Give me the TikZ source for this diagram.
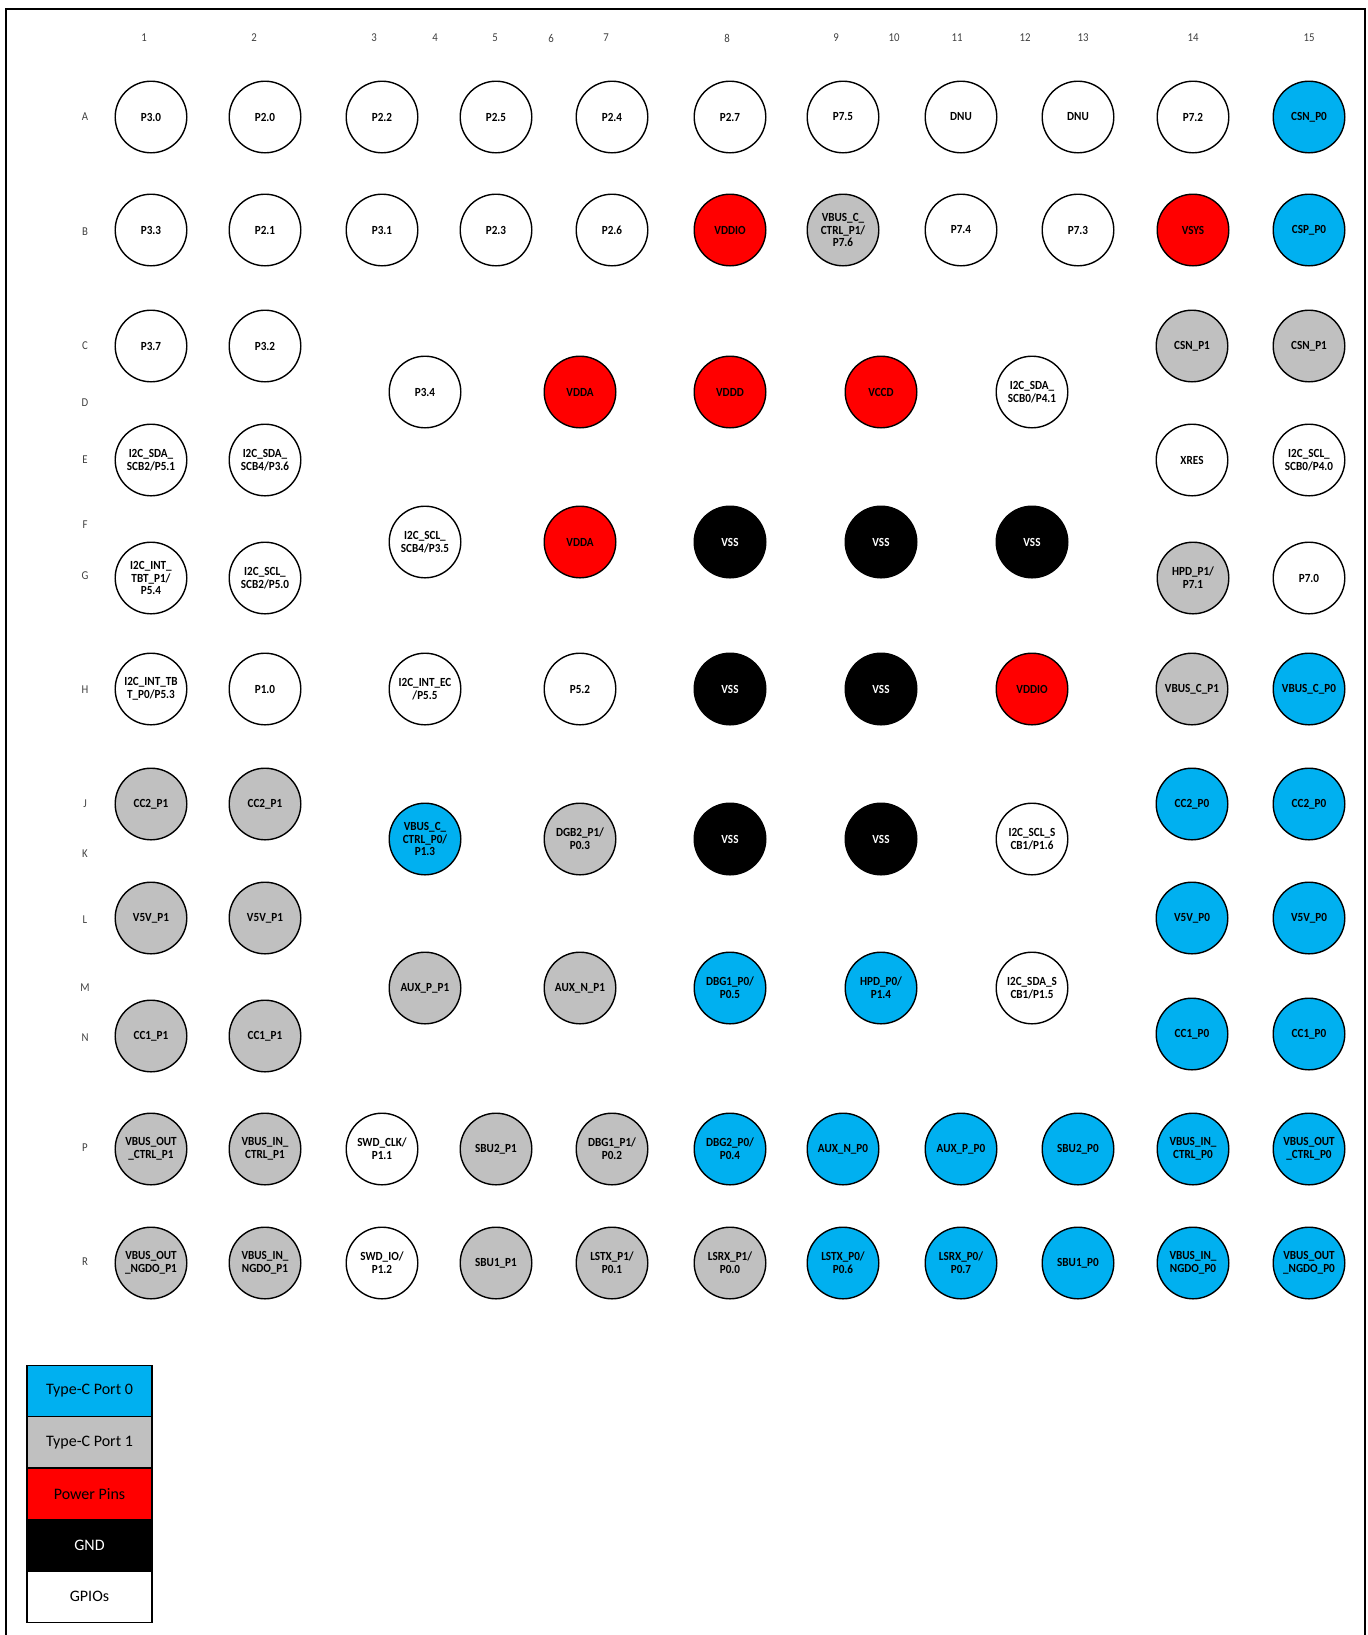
\documentclass[tikz,border=0pt]{standalone}
\usepackage{fontspec}
\setmainfont{Carlito}
\newfontfamily\pinfont[FakeStretch=0.9]{Carlito}
\usetikzlibrary{positioning}
\definecolor{portzero}{HTML}{00B0F0}
\definecolor{portone}{HTML}{C0C0C0}
\definecolor{pwrred}{HTML}{FF0000}
\tikzset{
  ball/.style={circle, draw, line width=0.7pt, minimum size=35.8pt, inner sep=0pt, align=center,
    font=\pinfont\bfseries\fontsize{6.2}{6.4}\selectfont},
  gpio/.style={ball, fill=white},
  pzero/.style={ball, fill=portzero},
  pone/.style={ball, fill=portone},
  pwr/.style={ball, fill=pwrred},
  gnd/.style={ball, fill=black, text=white},
  axlbl/.style={font=\pinfont\fontsize{6}{6}\selectfont, text=black!75, inner sep=0pt},
  keybox/.style={draw, line width=0.7pt, minimum width=62.5pt, minimum height=25.7pt, inner sep=0pt,
    outer sep=0pt, text=black, font=\fontsize{8}{9}\selectfont},
  frameline/.style={line width=1pt}
}

\begin{document}
\begin{tikzpicture}[x=0.5pt,y=-0.5pt]
  \useasboundingbox (0,0) rectangle (1367,1635);
  \draw[frameline] (6,1645) -- (6,9) -- (1365,9) -- (1365,1645);
  % ball grid numbering
  \foreach \c/\x in {1/144,2/254,3/374,4/435,5/495,6/551,7/606,8/727,9/836,10/894,11/957,12/1025,13/1083,14/1193,15/1309}
    \node[axlbl] (col\c) at (\x,38) {\c};
  \foreach \r/\y in {A/117,B/232,C/346,D/403,E/460,F/525,G/576,H/690,J/804,K/854,L/920,M/988,N/1038,P/1148,R/1262}
    \node[axlbl] (row\r) at (85,\y) {\r};
  % pins: x/y/kind/label
  \foreach \px/\py/\ps/\pl [count=\i] in {
    151/117/gpio/{P3.0}, 265/117/gpio/{P2.0}, 382/117/gpio/{P2.2}, 496/117/gpio/{P2.5},
    612/117/gpio/{P2.4}, 730/117/gpio/{P2.7}, 843/117/gpio/{P7.5}, 961/117/gpio/{DNU},
    1078/117/gpio/{DNU}, 1193/117/gpio/{P7.2}, 1309/117/pzero/{CSN\_P0},
    151/230/gpio/{P3.3}, 265/230/gpio/{P2.1}, 382/230/gpio/{P3.1}, 496/230/gpio/{P2.3},
    612/230/gpio/{P2.6}, 730/230/pwr/{VDDIO}, 843/230/pone/{VBUS\_C\_\\CTRL\_P1/\\P7.6},
    961/230/gpio/{P7.4}, 1078/230/gpio/{P7.3}, 1193/230/pwr/{VSYS}, 1309/230/pzero/{CSP\_P0},
    151/346/gpio/{P3.7}, 265/346/gpio/{P3.2}, 1192/346/pone/{CSN\_P1}, 1309/346/pone/{CSN\_P1},
    425/392/gpio/{P3.4}, 580/392/pwr/{VDDA}, 730/392/pwr/{VDDD}, 881/392/pwr/{VCCD},
    1032/392/gpio/{I2C\_SDA\_\\SCB0/P4.1},
    151/460/gpio/{I2C\_SDA\_\\SCB2/P5.1}, 265/460/gpio/{I2C\_SDA\_\\SCB4/P3.6},
    1192/460/gpio/{XRES}, 1309/460/gpio/{I2C\_SCL\_\\SCB0/P4.0},
    425/542/gpio/{I2C\_SCL\_\\SCB4/P3.5}, 580/542/pwr/{VDDA}, 730/542/gnd/{VSS},
    881/542/gnd/{VSS}, 1032/542/gnd/{VSS},
    151/578/gpio/{I2C\_INT\_\\TBT\_P1/\\P5.4}, 265/578/gpio/{I2C\_SCL\_\\SCB2/P5.0},
    1193/578/pone/{HPD\_P1/\\P7.1}, 1309/578/gpio/{P7.0},
    151/689/gpio/{I2C\_INT\_TB\\T\_P0/P5.3}, 265/689/gpio/{P1.0}, 425/689/gpio/{I2C\_INT\_EC\\/P5.5},
    580/689/gpio/{P5.2}, 730/689/gnd/{VSS}, 881/689/gnd/{VSS}, 1032/689/pwr/{VDDIO},
    1192/689/pone/{VBUS\_C\_P1}, 1309/689/pzero/{VBUS\_C\_P0},
    151/804/pone/{CC2\_P1}, 265/804/pone/{CC2\_P1}, 1192/804/pzero/{CC2\_P0}, 1309/804/pzero/{CC2\_P0},
    425/839/pzero/{VBUS\_C\_\\CTRL\_P0/\\P1.3}, 580/839/pone/{DGB2\_P1/\\P0.3}, 730/839/gnd/{VSS},
    881/839/gnd/{VSS}, 1032/839/gpio/{I2C\_SCL\_S\\CB1/P1.6},
    151/918/pone/{V5V\_P1}, 265/918/pone/{V5V\_P1}, 1192/918/pzero/{V5V\_P0}, 1309/918/pzero/{V5V\_P0},
    425/988/pone/{AUX\_P\_P1}, 580/988/pone/{AUX\_N\_P1}, 730/988/pzero/{DBG1\_P0/\\P0.5},
    881/988/pzero/{HPD\_P0/\\P1.4}, 1032/988/gpio/{I2C\_SDA\_S\\CB1/P1.5},
    151/1036/pone/{CC1\_P1}, 265/1036/pone/{CC1\_P1}, 1192/1034/pzero/{CC1\_P0}, 1309/1034/pzero/{CC1\_P0},
    151/1149/pone/{VBUS\_OUT\\\_CTRL\_P1}, 265/1149/pone/{VBUS\_IN\_\\CTRL\_P1},
    382/1149/gpio/{SWD\_CLK/\\P1.1}, 496/1149/pone/{SBU2\_P1}, 612/1149/pone/{DBG1\_P1/\\P0.2},
    730/1149/pzero/{DBG2\_P0/\\P0.4}, 843/1149/pzero/{AUX\_N\_P0}, 961/1149/pzero/{AUX\_P\_P0},
    1078/1149/pzero/{SBU2\_P0}, 1193/1149/pzero/{VBUS\_IN\_\\CTRL\_P0}, 1309/1149/pzero/{VBUS\_OUT\\\_CTRL\_P0},
    151/1263/pone/{VBUS\_OUT\\\_NGDO\_P1}, 265/1263/pone/{VBUS\_IN\_\\NGDO\_P1},
    382/1263/gpio/{SWD\_IO/\\P1.2}, 496/1263/pone/{SBU1\_P1}, 612/1263/pone/{LSTX\_P1/\\P0.1},
    730/1263/pone/{LSRX\_P1/\\P0.0}, 843/1263/pzero/{LSTX\_P0/\\P0.6}, 961/1263/pzero/{LSRX\_P0/\\P0.7},
    1078/1263/pzero/{SBU1\_P0}, 1193/1263/pzero/{VBUS\_IN\_\\NGDO\_P0}, 1309/1263/pzero/{VBUS\_OUT\\\_NGDO\_P0}}
    \node[\ps] (pin\i) at (\px,\py) {\pl};
  % legend
  \node[keybox, fill=portzero] (key0) at (89.5,1391) {Type-C Port 0};
  \node[keybox, fill=portone, below=0pt of key0] (key1) {Type-C Port 1};
  \node[keybox, fill=pwrred, below=0pt of key1] (key2) {Power Pins};
  \node[keybox, fill=black, text=white, below=0pt of key2] (key3) {GND};
  \node[keybox, fill=white, below=0pt of key3] (key4) {GPIOs};
\end{tikzpicture}
\end{document}
